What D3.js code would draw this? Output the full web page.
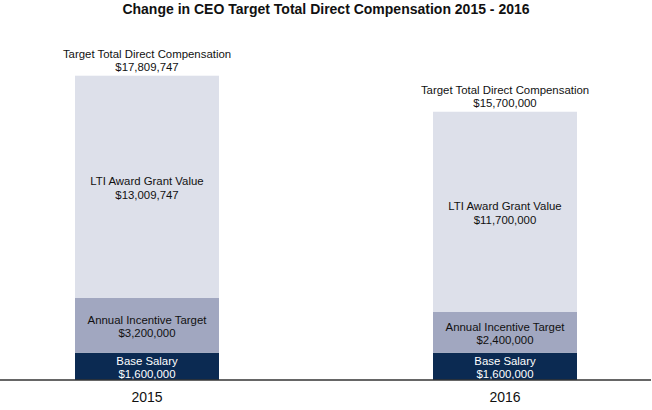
<!DOCTYPE html>
<html><head><meta charset="utf-8">
<script src="https://cdn.jsdelivr.net/npm/d3@7"></script>
<style>body{margin:0;background:#fff;} svg{display:block;font-family:"Liberation Sans",Arial,Helvetica,sans-serif;}</style>
</head><body>
<svg id="c" width="652" height="410"></svg>
<script>
const years = ["2015", "2016"];
const segments = ["Base Salary", "Annual Incentive Target", "LTI Award Grant Value"];
const baseSalary = [1600000, 1600000];
const annualIncentive = [3200000, 2400000];
const ltiAward = [13009747, 11700000];
const totalLabel = "Target Total Direct Compensation";
const colors = ["#0b2a52", "#a1a7c0", "#dde0ea"];
const textColors = ["#ffffff", "#111111", "#111111"];

const svg = d3.select("#c");
const W = 652, H = 410;
const baseY = 380, topY = 75.7;
const rows = years.map((y, i) => ({year: y, base: baseSalary[i], annual: annualIncentive[i], lti: ltiAward[i]}));
const stack = d3.stack().keys(["base", "annual", "lti"])(rows);
const maxTotal = d3.max(rows, d => d.base + d.annual + d.lti);
const yS = d3.scaleLinear().domain([0, maxTotal]).range([baseY, topY]);
const xS = d3.scaleBand().domain(years).range([0, 652]).paddingInner(0.5978).paddingOuter(0.2095);
const fmt = v => "$" + d3.format(",")(v);

svg.append("text").attr("x", W/2).attr("y", 14).attr("text-anchor", "middle")
  .attr("font-weight", "bold").attr("font-size", 14).attr("fill", "#111")
  .text("Change in CEO Target Total Direct Compensation 2015 - 2016");

stack.forEach((layer, k) => {
  const g = svg.append("g");
  g.selectAll("rect").data(layer).join("rect")
    .attr("x", d => xS(d.data.year)).attr("width", xS.bandwidth())
    .attr("y", d => yS(d[1])).attr("height", d => yS(d[0]) - yS(d[1]))
    .attr("fill", colors[k]);
  layer.forEach(d => {
    const cx = xS(d.data.year) + xS.bandwidth()/2;
    const cy = (yS(d[0]) + yS(d[1]))/2;
    const t = g.append("text").attr("text-anchor", "middle").attr("font-size", 11.4).attr("fill", textColors[k]);
    t.append("tspan").attr("x", cx).attr("y", cy - 1.5).text(segments[k]);
    t.append("tspan").attr("x", cx).attr("y", cy + 12).text(fmt(d[1] - d[0]));
  });
});

rows.forEach(d => {
  const tot = d.base + d.annual + d.lti;
  const cx = xS(d.year) + xS.bandwidth()/2;
  const t = svg.append("text").attr("text-anchor", "middle").attr("font-size", 11.4).attr("fill", "#111");
  t.append("tspan").attr("x", cx).attr("y", yS(tot) - 18).text(totalLabel);
  t.append("tspan").attr("x", cx).attr("y", yS(tot) - 4.5).text(fmt(tot));
});

const xAxis = d3.axisBottom(xS).tickSize(0).tickPadding(12);
const ax = svg.append("g").attr("transform", `translate(0,${baseY})`).call(xAxis);
ax.select(".domain").attr("d", `M0,0H651`).attr("stroke", "#333").attr("stroke-width", 1.5);
ax.selectAll("text").attr("font-size", 14).attr("fill", "#111").attr("font-family", "Liberation Sans, Arial, sans-serif");
</script>
</body></html>
